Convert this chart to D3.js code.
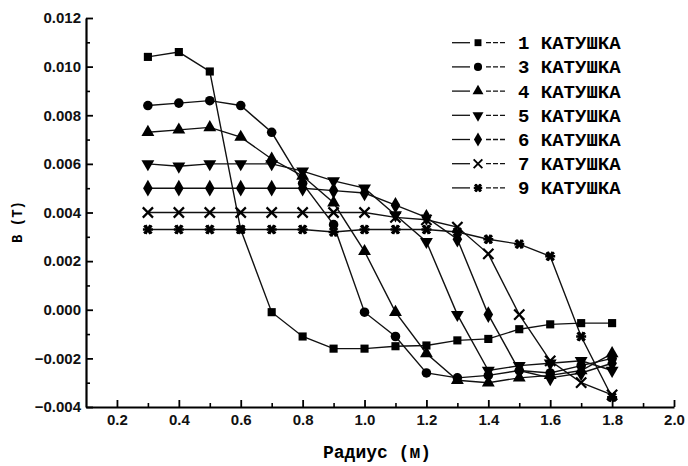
<!DOCTYPE html>
<html>
<head>
<meta charset="utf-8">
<script src="https://cdn.jsdelivr.net/npm/d3@7"></script>
<style>
  body { margin: 0; background: #fff; }
  svg { display: block; }
  .tick text { font-family: "Liberation Sans", Arial, sans-serif; font-weight: bold; font-size: 15px; fill: #111; }
</style>
</head>
<body>
<div id="chart"></div>
<script>
// Radius values (m) where B was measured
const radius = [0.3, 0.4, 0.5, 0.6, 0.7, 0.8, 0.9, 1.0, 1.1, 1.2, 1.3, 1.4, 1.5, 1.6, 1.7, 1.8];

// B (T) for each coil
const coil1 = [0.0104, 0.0106, 0.0098, 0.0033, -0.0001, -0.0011, -0.0016, -0.0016, -0.0015, -0.00147, -0.00126, -0.0012, -0.0008, -0.0006, -0.00055, -0.00055];
const coil3 = [0.0084, 0.0085, 0.0086, 0.0084, 0.0073, 0.0052, 0.0035, -0.0001, -0.0011, -0.0026, -0.0028, -0.0027, -0.0025, -0.0026, -0.0023, -0.0020];
const coil4 = [0.0073, 0.0074, 0.0075, 0.0071, 0.0062, 0.0055, 0.0044, 0.0024, -0.0001, -0.0018, -0.0029, -0.0030, -0.0028, -0.0027, -0.0025, -0.0018];
const coil5 = [0.0060, 0.0059, 0.0060, 0.0060, 0.0060, 0.0057, 0.0053, 0.0050, 0.0039, 0.0028, -0.0002, -0.0025, -0.0023, -0.0022, -0.0021, -0.0025];
const coil6 = [0.0050, 0.0050, 0.0050, 0.0050, 0.0050, 0.0050, 0.0049, 0.0048, 0.0043, 0.0038, 0.0029, -0.0002, -0.0025, -0.0028, -0.0026, -0.0022];
const coil7 = [0.0040, 0.0040, 0.0040, 0.0040, 0.0040, 0.0040, 0.0040, 0.0040, 0.0038, 0.0037, 0.0034, 0.0023, -0.0002, -0.0021, -0.0030, -0.0035];
const coil9 = [0.0033, 0.0033, 0.0033, 0.0033, 0.0033, 0.0033, 0.0032, 0.0033, 0.0033, 0.0033, 0.0032, 0.0029, 0.0027, 0.0022, -0.0011, -0.0036];

const seriesNames = ['1 КАТУШКА', '3 КАТУШКА', '4 КАТУШКА', '5 КАТУШКА', '6 КАТУШКА', '7 КАТУШКА', '9 КАТУШКА'];
const seriesValues = [coil1, coil3, coil4, coil5, coil6, coil7, coil9];
const markerKinds = ['square', 'circle', 'up', 'down', 'diamond', 'times', 'star'];

const xTicks = [0.2, 0.4, 0.6, 0.8, 1.0, 1.2, 1.4, 1.6, 1.8, 2.0];
const yTicks = [-0.004, -0.002, 0.000, 0.002, 0.004, 0.006, 0.008, 0.010, 0.012];

const width = 688;
const height = 466;
const margin = {top: 18, right: 14, bottom: 59, left: 86};

const svg = d3.select('#chart').append('svg')
  .attr('width', width)
  .attr('height', height);

const x = d3.scaleLinear().domain([0.1, 2.0]).range([margin.left, width - margin.right]);
const y = d3.scaleLinear().domain([-0.004, 0.012]).range([height - margin.bottom, margin.top]);

// minor ticks first (no labels)
svg.append('g')
  .attr('transform', `translate(0,${y(-0.004)})`)
  .call(d3.axisBottom(x).tickValues(d3.range(0.3, 2.0, 0.2)).tickSizeInner(-4).tickSizeOuter(0).tickFormat(''))
  .call(g => g.select('.domain').remove())
  .call(g => g.selectAll('line').attr('stroke-width', 1.6));

svg.append('g')
  .attr('transform', `translate(${x(0.1)},0)`)
  .call(d3.axisLeft(y).tickValues(d3.range(-0.003, 0.012, 0.002)).tickSizeInner(-4).tickSizeOuter(0).tickFormat(''))
  .call(g => g.select('.domain').remove())
  .call(g => g.selectAll('line').attr('stroke-width', 1.6));

// major axes
svg.append('g')
  .attr('transform', `translate(0,${y(-0.004)})`)
  .call(d3.axisBottom(x).tickValues(xTicks).tickSizeInner(-7).tickSizeOuter(0).tickPadding(7).tickFormat(d3.format('.1f')))
  .call(g => g.select('.domain').attr('stroke-width', 2.2))
  .call(g => g.selectAll('line').attr('stroke-width', 1.8));

svg.append('g')
  .attr('transform', `translate(${x(0.1)},0)`)
  .call(d3.axisLeft(y).tickValues(yTicks).tickSizeInner(-7).tickSizeOuter(0).tickPadding(5).tickFormat(d3.format('.3f')))
  .call(g => g.select('.domain').attr('stroke-width', 2.2))
  .call(g => g.selectAll('line').attr('stroke-width', 1.8));

// axis titles
svg.append('text')
  .attr('x', 377).attr('y', 458)
  .attr('text-anchor', 'middle')
  .style('font-family', '"Liberation Mono", "Courier New", monospace')
  .style('font-weight', 'bold')
  .style('font-size', '18px')
  .text('Радиус (м)');

svg.append('text')
  .attr('transform', 'translate(22,222) rotate(-90)')
  .attr('text-anchor', 'middle')
  .style('font-family', '"Liberation Mono", "Courier New", monospace')
  .style('font-weight', 'bold')
  .style('font-size', '14px')
  .text('В (Т)');

// marker drawing
function drawMarker(sel, kind) {
  const sym = d3.symbol();
  if (kind === 'square') {
    sel.append('path').attr('d', sym.type(d3.symbolSquare).size(66)()).attr('fill', '#000');
  } else if (kind === 'circle') {
    sel.append('path').attr('d', sym.type(d3.symbolCircle).size(72)()).attr('fill', '#000');
  } else if (kind === 'up') {
    sel.append('path').attr('d', sym.type(d3.symbolTriangle).size(72)()).attr('fill', '#000');
  } else if (kind === 'down') {
    sel.append('path').attr('d', sym.type(d3.symbolTriangle).size(72)()).attr('transform', 'rotate(180)').attr('fill', '#000');
  } else if (kind === 'diamond') {
    sel.append('path').attr('d', sym.type(d3.symbolDiamond).size(80)()).attr('fill', '#000');
  } else if (kind === 'times') {
    sel.append('path').attr('d', sym.type(d3.symbolTimes).size(70)()).attr('fill', 'none').attr('stroke', '#000').attr('stroke-width', 2.2);
  } else {
    sel.append('path').attr('d', sym.type(d3.symbolAsterisk).size(70)()).attr('transform', 'rotate(90)').attr('fill', 'none').attr('stroke', '#000').attr('stroke-width', 2.6);
    sel.append('path').attr('d', sym.type(d3.symbolTimes).size(40)()).attr('fill', 'none').attr('stroke', '#000').attr('stroke-width', 2.6);
  }
}

const line = d3.line()
  .x((d, i) => x(radius[i]))
  .y(d => y(d));

const plot = svg.append('g');

seriesValues.forEach((vals, k) => {
  plot.append('path')
    .attr('d', line(vals))
    .attr('fill', 'none')
    .attr('stroke', '#111')
    .attr('stroke-width', 1.4);
});

seriesValues.forEach((vals, k) => {
  plot.selectAll(null)
    .data(vals)
    .enter()
    .append('g')
    .attr('transform', (d, i) => `translate(${x(radius[i])},${y(d)})`)
    .each(function() { drawMarker(d3.select(this), markerKinds[k]); });
});

// legend
const legend = svg.append('g');
seriesNames.forEach((name, k) => {
  const cy = 42.7 + k * 24.2;
  const row = legend.append('g').attr('transform', `translate(0,${cy})`);
  row.append('line').attr('x1', 452).attr('x2', 470).attr('stroke', '#111').attr('stroke-width', 1.3);
  row.append('line').attr('x1', 486).attr('x2', 505).attr('stroke', '#111').attr('stroke-width', 1.3).attr('stroke-dasharray', '5,2');
  drawMarker(row.append('g').attr('transform', 'translate(478,0) scale(0.85)'), markerKinds[k]);
  row.append('text')
    .attr('x', 518).attr('y', 6.5)
    .style('font-family', '"Liberation Mono", "Courier New", monospace')
    .style('font-weight', 'bold')
    .style('font-size', '19px')
    .text(name);
});
</script>
</body>
</html>
